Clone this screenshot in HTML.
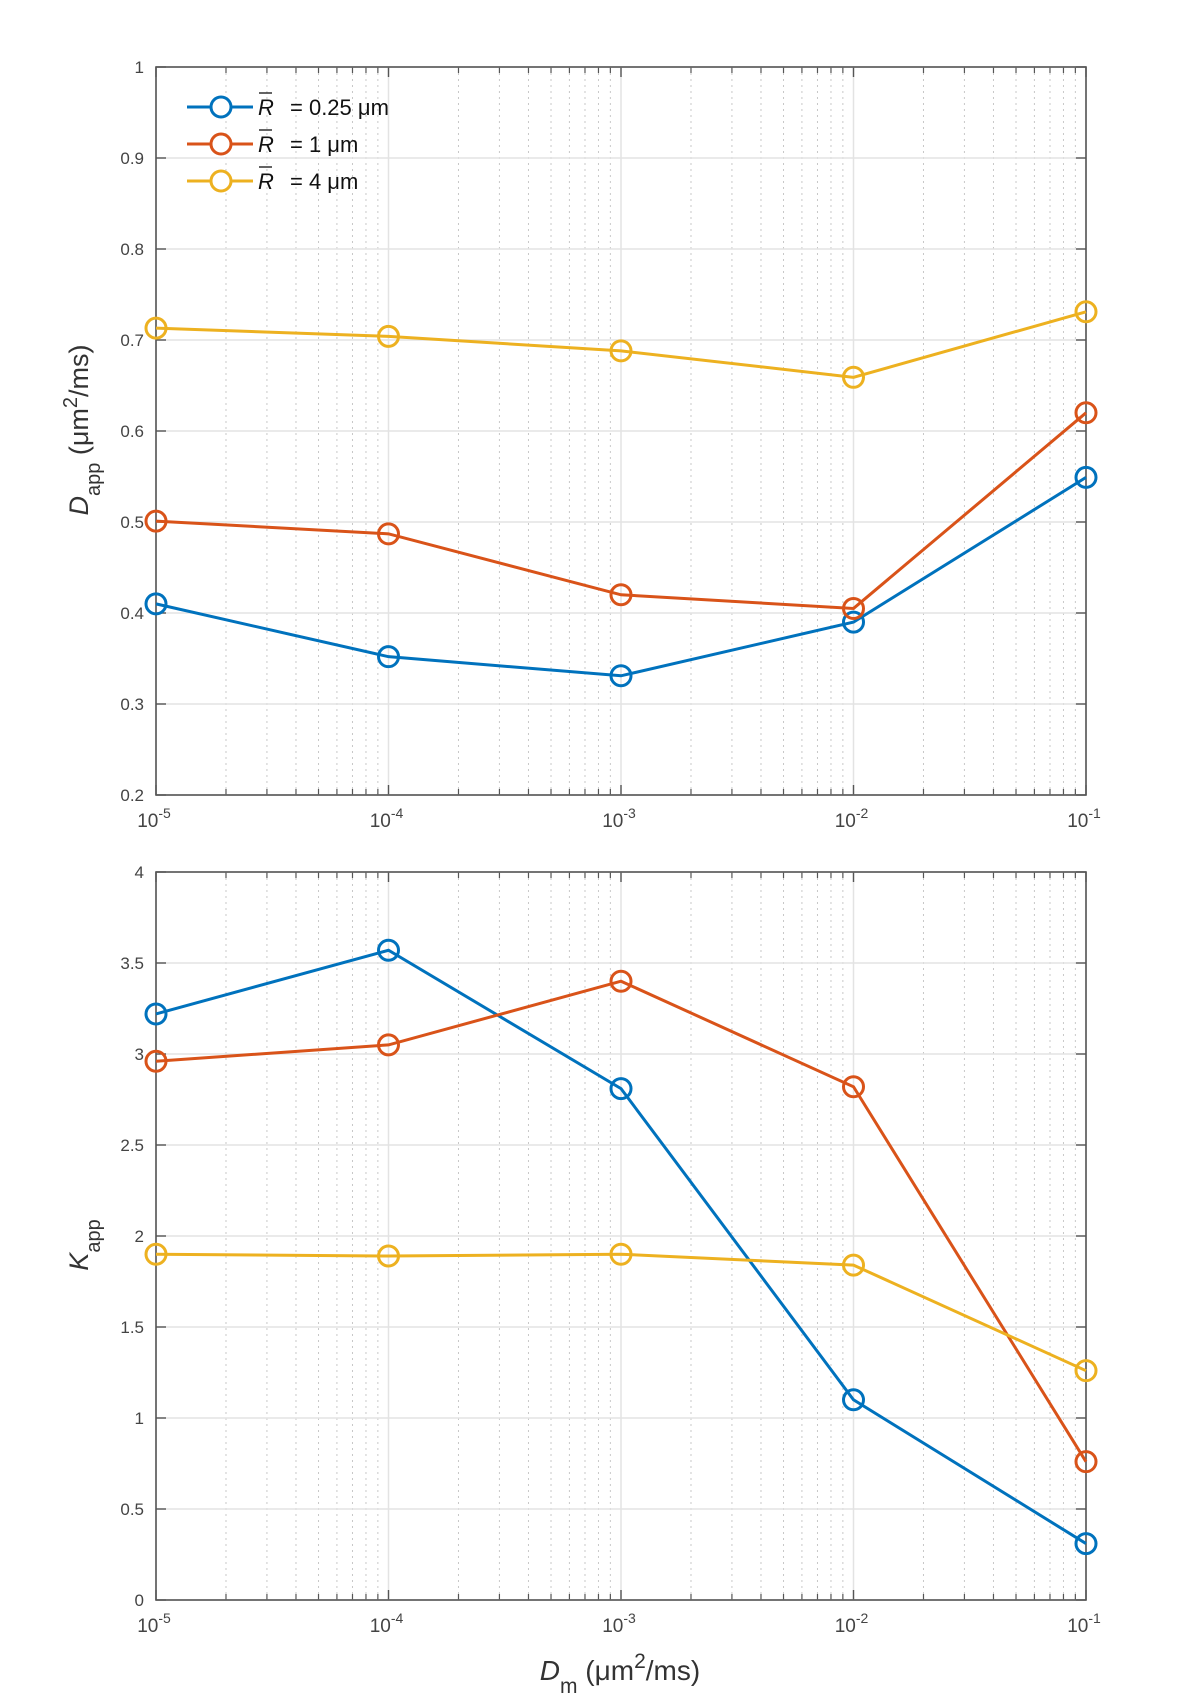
<!DOCTYPE html>
<html><head><meta charset="utf-8"><style>
html,body{margin:0;padding:0;background:#fff;}
svg{display:block;font-family:"Liberation Sans",sans-serif;}
</style></head>
<body>
<svg id="chart" width="1200" height="1705" viewBox="0 0 1200 1705" xmlns="http://www.w3.org/2000/svg"></svg>
<script>
const xExps = [-5, -4, -3, -2, -1];
const xVals = [1e-5, 1e-4, 1e-3, 1e-2, 1e-1];
const seriesNames = ["0.25 μm", "1 μm", "4 μm"];
const dBlue = [0.41, 0.352, 0.331, 0.39, 0.549];
const dRed = [0.501, 0.487, 0.42, 0.405, 0.62];
const dYellow = [0.713, 0.704, 0.688, 0.659, 0.731];
const kBlue = [3.22, 3.57, 2.81, 1.10, 0.31];
const kRed = [2.96, 3.05, 3.40, 2.82, 0.76];
const kYellow = [1.90, 1.89, 1.90, 1.84, 1.26];
const dTicks = [0.2,0.3,0.4,0.5,0.6,0.7,0.8,0.9,1];
const dTickLabels = ["0.2","0.3","0.4","0.5","0.6","0.7","0.8","0.9","1"];
const kTicks = [0,0.5,1,1.5,2,2.5,3,3.5,4];
const kTickLabels = ["0","0.5","1","1.5","2","2.5","3","3.5","4"];

const colors = ["#0072BD","#D95319","#EDB120"];
const NS = "http://www.w3.org/2000/svg";
const svg = document.getElementById("chart");
const L = 156, R = 1086;
function xs(v){ return L + (Math.log10(v) + 5) / 4 * (R - L); }
function mk(tag, attrs, parent){
  const e = document.createElementNS(NS, tag);
  for (const k in attrs) e.setAttribute(k, attrs[k]);
  (parent || svg).appendChild(e);
  return e;
}

function panel(name, top, bottom, ymin, ymax, ticks, tickLabels, series){
  const g = mk("g", {});
  
  
  const ys = v => bottom - (v - ymin) / (ymax - ymin) * (bottom - top);
  // minor x grid
  for (let d = -5; d < -1; d++) for (let m = 2; m <= 9; m++) {
    const x = xs(m * Math.pow(10, d));
    mk("line", {x1:x, x2:x, y1:top, y2:bottom, stroke:"#c8c8c8", "stroke-width":1, "stroke-dasharray":"2,4"}, g);
    mk("line", {x1:x, x2:x, y1:bottom, y2:bottom-6, stroke:"#555", "stroke-width":1.2}, g);
    mk("line", {x1:x, x2:x, y1:top, y2:top+6, stroke:"#555", "stroke-width":1.2}, g);
  }
  // major x grid
  xVals.forEach((v, i) => {
    const x = xs(v);
    mk("line", {x1:x, x2:x, y1:top, y2:bottom, stroke:"#e3e3e3", "stroke-width":1.5}, g);
    mk("line", {x1:x, x2:x, y1:bottom, y2:bottom-10, stroke:"#555", "stroke-width":1.4}, g);
    mk("line", {x1:x, x2:x, y1:top, y2:top+10, stroke:"#555", "stroke-width":1.4}, g);
    const t = mk("text", {x:x-2, y:bottom+32, "font-size":19, fill:"#444", "text-anchor":"middle"}, g);
    
    
    t.textContent = "10";
    const s = mk("tspan", {dy:-9, "font-size":14}, t);
    s.textContent = String(xExps[i]);
  });
  // y grid
  ticks.forEach((v, i) => {
    const y = ys(v);
    mk("line", {x1:L, x2:R, y1:y, y2:y, stroke:"#e3e3e3", "stroke-width":1.5}, g);
    mk("line", {x1:L, x2:L+10, y1:y, y2:y, stroke:"#555", "stroke-width":1.4}, g);
    mk("line", {x1:R, x2:R-10, y1:y, y2:y, stroke:"#555", "stroke-width":1.4}, g);
    const t = mk("text", {x:L-12, y:y+6, "font-size":17, fill:"#444", "text-anchor":"end"}, g);
    
    
    t.textContent = tickLabels[i];
  });
  mk("rect", {x:L, y:top, width:R-L, height:bottom-top, fill:"none", stroke:"#555", "stroke-width":1.6}, g);
  series.forEach((vals, si) => {
    const pts = vals.map((v, i) => xs(xVals[i]) + "," + ys(v)).join(" ");
    const pl = mk("polyline", {points:pts, fill:"none", stroke:colors[si], "stroke-width":3}, g);
    
    
    vals.forEach((v, i) => {
      const c = mk("circle", {cx:xs(xVals[i]), cy:ys(v), r:10, fill:"none", stroke:colors[si], "stroke-width":3}, g);
      
      
    });
  });
}

panel("dapp-panel", 67, 795, 0.2, 1, dTicks, dTickLabels, [dBlue, dRed, dYellow]);
panel("kapp-panel", 872, 1600, 0, 4, kTicks, kTickLabels, [kBlue, kRed, kYellow]);

// legend
const legY = [107, 144, 181];
seriesNames.forEach((n, i) => {
  const g = mk("g", {});
  
  
  mk("line", {x1:187, x2:253, y1:legY[i], y2:legY[i], stroke:colors[i], "stroke-width":3}, g);
  mk("circle", {cx:221, cy:legY[i], r:10, fill:"#fff", stroke:colors[i], "stroke-width":3}, g);
  const t = mk("text", {x:258, y:legY[i]+8, "font-size":22, fill:"#111", "font-style":"italic"}, g);
  t.textContent = "R";
  mk("line", {x1:259, x2:272, y1:legY[i]-14, y2:legY[i]-14, stroke:"#111", "stroke-width":1.3}, g);
  const t2 = mk("text", {x:290, y:legY[i]+8, "font-size":22, fill:"#111"}, g);
  t2.textContent = "= " + n;
});
</script>
<svg width="0" height="0"></svg>
<div style="position:absolute;left:0;top:0;width:1200px;height:1705px;pointer-events:none;">
<svg width="1200" height="1705" style="position:absolute;left:0;top:0" font-family="Liberation Sans, sans-serif">
<g transform="translate(88,430) rotate(-90)">
<text x="0" y="0" text-anchor="middle" font-size="27" fill="#333"><tspan font-style="italic">D</tspan><tspan font-size="20" dy="12">app</tspan><tspan dy="-12"> (μm</tspan><tspan font-size="20" dy="-11">2</tspan><tspan dy="11">/ms)</tspan></text>
</g>
<g transform="translate(88,1245) rotate(-90)">
<text x="0" y="0" text-anchor="middle" font-size="27" fill="#333"><tspan font-style="italic">K</tspan><tspan font-size="20" dy="12">app</tspan></text>
</g>
<text x="620" y="1680" text-anchor="middle" font-size="28" fill="#333"><tspan font-style="italic">D</tspan><tspan font-size="21" dy="13">m</tspan><tspan dy="-13">  (μm</tspan><tspan font-size="21" dy="-12">2</tspan><tspan dy="12">/ms)</tspan></text>
</svg>
</div>
</body></html>
